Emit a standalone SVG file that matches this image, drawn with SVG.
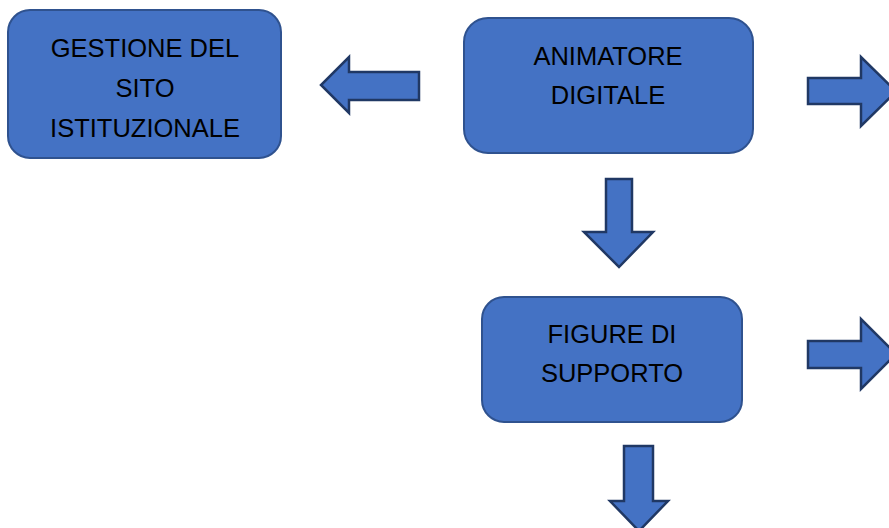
<svg xmlns="http://www.w3.org/2000/svg" width="889" height="528" viewBox="0 0 889 528">
<style>
.box{fill:#4472C4;stroke:#2F528F;stroke-width:2}
.arr{fill:#4472C4;stroke:#203864;stroke-width:2.5;stroke-linejoin:miter}
.t{font-family:"Liberation Sans",Arial,sans-serif;font-size:25.5px;fill:#000;text-anchor:middle}
</style>
<rect width="889" height="528" fill="#fff"/>
<g id="node-gestione">
<rect class="box" x="8" y="10" width="273" height="148" rx="22"/>
<text class="t" x="145" y="57">GESTIONE DEL</text>
<text class="t" x="145" y="97">SITO</text>
<text class="t" x="145" y="137">ISTITUZIONALE</text>
</g>
<g id="node-animatore">
<rect class="box" x="464" y="18" width="289" height="135" rx="24"/>
<text class="t" x="608" y="65">ANIMATORE</text>
<text class="t" x="608" y="104">DIGITALE</text>
</g>
<g id="node-figure">
<rect class="box" x="482" y="297" width="260" height="125" rx="22"/>
<text class="t" x="612" y="343">FIGURE DI</text>
<text class="t" x="612" y="382">SUPPORTO</text>
</g>
<g id="connectors">
<polygon class="arr" points="419,72 349,72 349,57 321,85 349,113 349,100 419,100"/>
<polygon class="arr" points="808,78 861,78 861,57 896,91.5 861,126 861,104 808,104"/>
<polygon class="arr" points="606,179 632,179 632,232 653,232 619,267 584,232 606,232"/>
<polygon class="arr" points="808,341 861,341 861,319 896,354 861,389 861,368 808,368"/>
<polygon class="arr" points="624,446 653,446 653,501 668,501 639,531 610,501 624,501"/>
</g>
</svg>
